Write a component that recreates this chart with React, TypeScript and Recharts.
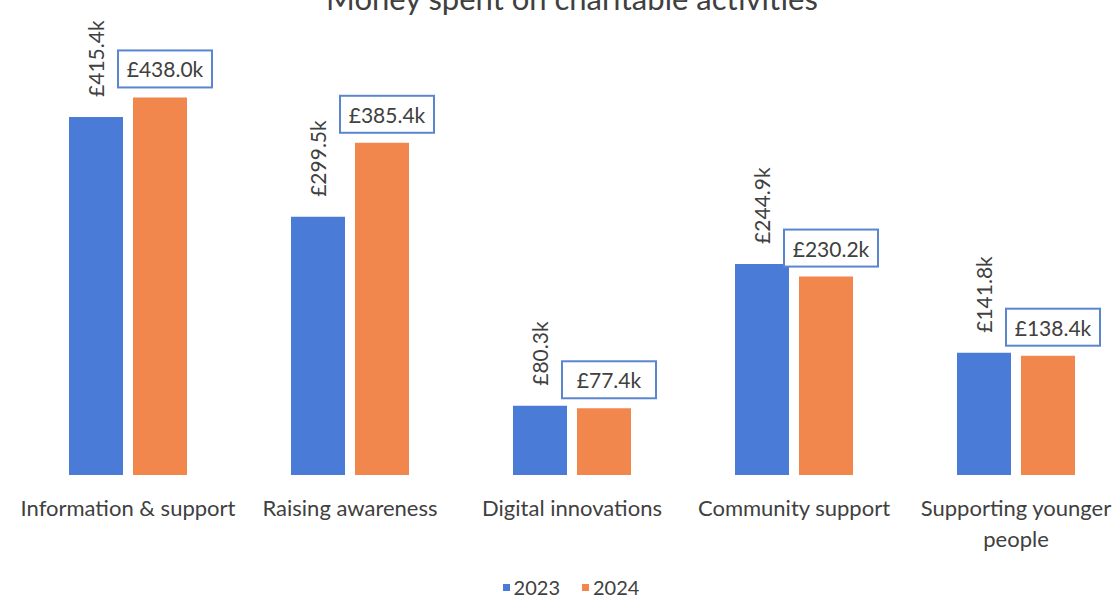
import React from 'react'
import { BarChart, Bar, XAxis, YAxis, LabelList } from 'recharts'

const categories = [
    'Information & support',
    'Raising awareness',
    'Digital innovations',
    'Community support',
    'Supporting younger people',
]
// how each category label is broken into lines under the axis
const tickLines = [
    ['Information & support'],
    ['Raising awareness'],
    ['Digital innovations'],
    ['Community support'],
    ['Supporting younger', 'people'],
]
const spend2023 = [415.4, 299.5, 80.3, 244.9, 141.8]
const spend2024 = [438.0, 385.4, 77.4, 230.2, 138.4]

const BLUE = '#4a7bd6'
const ORANGE = '#f2874d'
const TEXT = '#404040'
const FONT = 'Lato, "Open Sans", sans-serif'

const data = categories.map((name, i) => ({
    name,
    y2023: spend2023[i],
    y2024: spend2024[i],
}))

const fmt = (v: number) => `£${v.toFixed(1)}k`

// 2023 labels are rotated, sitting above the bar
const RotatedLabel = (props: any) => {
    const { x, y, width, value } = props
    const cx = x + width / 2
    const cy = y - 20
    return (
        <text
            x={cx}
            y={cy}
            transform={`rotate(-90 ${cx} ${cy})`}
            textAnchor="start"
            dominantBaseline="central"
            fontSize={21}
            fill={TEXT}
            fontFamily={FONT}
        >
            {fmt(value)}
        </text>
    )
}

// 2024 labels are boxed
const BoxLabel = (props: any) => {
    const { x, y, width, value } = props
    const cx = x + width / 2 + 5
    const w = 94
    const h = 37
    const bottom = y - 10
    return (
        <g>
            <rect x={cx - w / 2} y={bottom - h} width={w} height={h} fill="#fff" stroke="#5a86d0" strokeWidth={2} />
            <text
                x={cx}
                y={bottom - h / 2}
                textAnchor="middle"
                dominantBaseline="central"
                fontSize={21}
                fill={TEXT}
                fontFamily={FONT}
            >
                {fmt(value)}
            </text>
        </g>
    )
}

const CategoryTick = (props: any) => {
    const { x, y, index } = props
    const lines = tickLines[index] || []
    return (
        <g>
            {lines.map((line, i) => (
                <text
                    key={i}
                    x={x}
                    y={y + 33 + i * 31}
                    textAnchor="middle"
                    fontSize={22}
                    fill={TEXT}
                    fontFamily={FONT}
                >
                    {line}
                </text>
            ))}
        </g>
    )
}

export default function App() {
    return (
        <div style={{ position: 'fixed', left: 0, top: 0, width: 1112, height: 599, overflow: 'hidden', background: '#fff', fontFamily: FONT }}>
            <svg width={1112} height={40} style={{ position: 'absolute', left: 0, top: 0 }}>
                <text x={572} y={10} textAnchor="middle" fontSize={31} fill="#404040" fontFamily={FONT}>
                    Money spent on charitable activities
                </text>
            </svg>
            <div style={{ position: 'absolute', left: 0, top: 0 }}>
                <BarChart
                    width={1130}
                    height={599}
                    data={data}
                    margin={{ top: 44, right: 3, left: 17, bottom: 34 }}
                    barGap={10}
                    barSize={54}
                >
                    <XAxis
                        dataKey="name"
                        axisLine={false}
                        tickLine={false}
                        interval={0}
                        height={90}
                        tick={<CategoryTick />}
                    />
                    <YAxis hide domain={[0, 500]} />
                    <Bar dataKey="y2023" name="2023" fill={BLUE} isAnimationActive={false}>
                        <LabelList dataKey="y2023" content={<RotatedLabel />} />
                    </Bar>
                    <Bar dataKey="y2024" name="2024" fill={ORANGE} isAnimationActive={false}>
                        <LabelList dataKey="y2024" content={<BoxLabel />} />
                    </Bar>
                </BarChart>
            </div>
            <div style={{ position: 'absolute', top: 577, left: 0, width: 1142, height: 21, lineHeight: '21px', display: 'flex', justifyContent: 'center', alignItems: 'center', fontSize: 20, color: TEXT }}>
                <span style={{ display: 'inline-block', width: 7, height: 7, background: BLUE, marginRight: 4 }} />
                <span style={{ marginRight: 22 }}>2023</span>
                <span style={{ display: 'inline-block', width: 7, height: 7, background: ORANGE, marginRight: 4 }} />
                <span>2024</span>
            </div>
        </div>
    )
}
